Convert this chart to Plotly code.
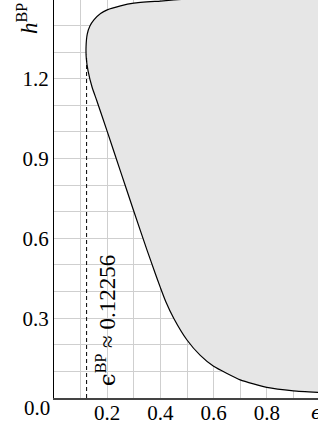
import plotly.graph_objects as go

# ---- data ----
eps_curve = [1.05, 0.992, 0.90, 0.80, 0.70, 0.60, 0.55, 0.50, 0.45, 0.42, 0.40, 0.38, 0.35,
             0.30, 0.25, 0.20, 0.16, 0.143, 0.128, 0.1215, 0.1205, 0.125, 0.135,
             0.150, 0.175, 0.20, 0.25, 0.30, 0.40, 0.50, 0.70]
h_curve = [0.018, 0.021, 0.027, 0.040, 0.068, 0.119, 0.160, 0.218, 0.300, 0.363, 0.415, 0.470, 0.555,
           0.702, 0.852, 1.002, 1.120, 1.169, 1.230, 1.275, 1.320, 1.368, 1.398,
           1.421, 1.445, 1.459, 1.474, 1.484, 1.492, 1.500, 1.520]
corner_eps = [1.3, 1.3]
corner_h = [1.7, -0.1]

EPS_BP = 0.12256
H_DASH_TOP = 1.29

x_tick_vals = [0.2, 0.4, 0.6, 0.8]
x_tick_text = ["0.2", "0.4", "0.6", "0.8"]
y_tick_vals = [0.3, 0.6, 0.9, 1.2]
y_tick_text = ["0.3", "0.6", "0.9", "1.2"]

X_RANGE = [0, 0.9925]
Y_RANGE = [0, 1.496]

FONT = "Liberation Serif"
FS = 21

fig = go.Figure()

# filled region (right of the BP curve)
fig.add_trace(go.Scatter(
    x=eps_curve + corner_eps, y=h_curve + corner_h,
    mode="lines", fill="toself", fillcolor="#e6e6e6",
    line=dict(color="rgba(0,0,0,0)", width=0, shape="spline", smoothing=0.5),
    hoverinfo="skip", showlegend=False))

# BP curve
fig.add_trace(go.Scatter(
    x=eps_curve, y=h_curve, mode="lines",
    line=dict(color="black", width=1.2, shape="spline", smoothing=0.5),
    showlegend=False))

# dashed threshold line
fig.add_trace(go.Scatter(
    x=[EPS_BP, EPS_BP], y=[0, H_DASH_TOP], mode="lines",
    line=dict(color="black", width=1, dash="4px,3px"),
    showlegend=False))

grid = "#cfcfcf"
fig.update_xaxes(
    range=X_RANGE, tickvals=x_tick_vals, ticktext=x_tick_text, automargin=False,
    showgrid=True, gridcolor=grid, gridwidth=1,
    minor=dict(dtick=0.1, tick0=0, showgrid=True, gridcolor=grid, gridwidth=1),
    showline=True, linecolor="#444444", linewidth=2, zeroline=False,
    ticks="", ticklabelstandoff=-5,
    tickfont=dict(family=FONT, size=FS, color="black"))
fig.update_yaxes(
    range=Y_RANGE, tickvals=y_tick_vals, ticktext=y_tick_text, automargin=False,
    showgrid=True, gridcolor=grid, gridwidth=1,
    minor=dict(dtick=0.1, tick0=0, showgrid=True, gridcolor=grid, gridwidth=1),
    showline=True, linecolor="black", linewidth=1, zeroline=False,
    ticks="", tickfont=dict(family=FONT, size=FS, color="black"))

annos = [
    dict(text="0.0", xref="paper", yref="paper", x=-0.008, y=-0.025,
         xanchor="right", yanchor="middle", showarrow=False,
         font=dict(family=FONT, size=FS, color="black")),
    dict(text="<i>ϵ</i>", xref="paper", yref="paper", x=0.966, y=-0.036,
         xanchor="left", yanchor="middle", showarrow=False,
         font=dict(family="DejaVu Serif", size=FS - 2, color="black")),
    dict(text="<i>h</i><sup>BP</sup>", xref="paper", yref="paper", x=-0.10, y=0.91,
         xanchor="center", yanchor="bottom", textangle=-90, showarrow=False,
         font=dict(family=FONT, size=FS + 2, color="black")),
    dict(text="<span style='font-family:DejaVu Serif'>ϵ</span><sup>BP</sup> ≈ 0.12256",
         xref="x", yref="y", x=0.197, y=0.29,
         xanchor="center", yanchor="middle", textangle=-90, showarrow=False,
         font=dict(family=FONT, size=FS + 2, color="black")),
]
fig.update_layout(
    width=318, height=427,
    margin=dict(l=54, r=0, t=0, b=29),
    paper_bgcolor="white", plot_bgcolor="white",
    annotations=annos, showlegend=False)

fig.write_html("out.html", config={"displayModeBar": False},
               post_script="document.body.style.margin='0';document.body.style.padding='0';")
